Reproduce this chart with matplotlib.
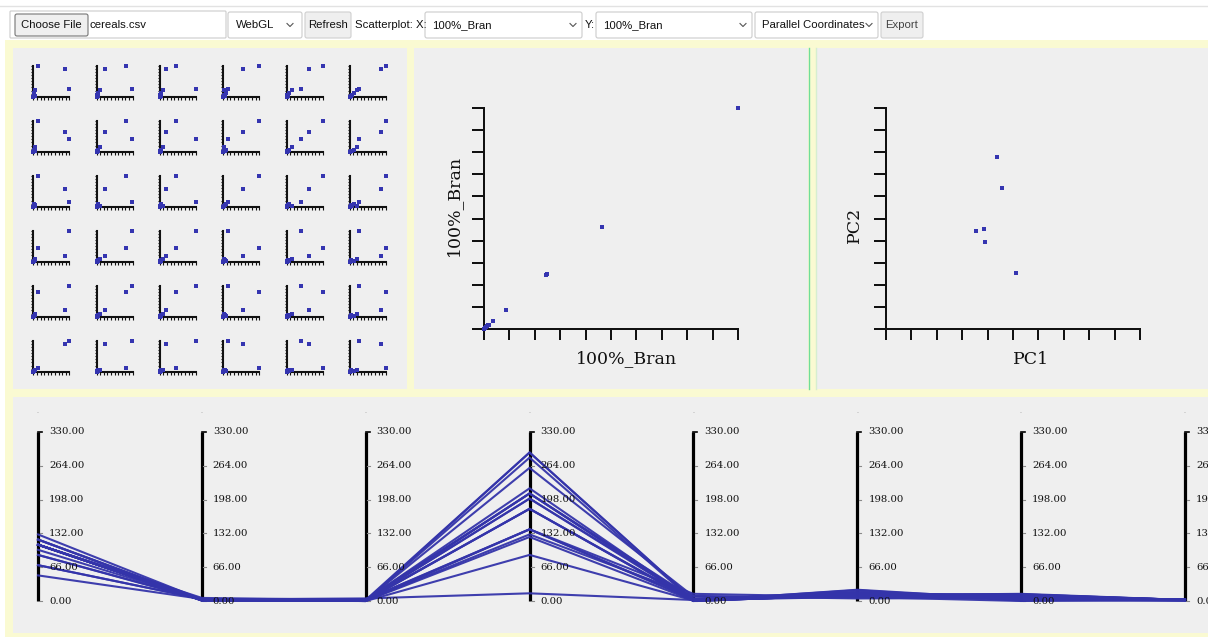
import matplotlib
matplotlib.use('Agg')
import matplotlib.pyplot as plt
from matplotlib.patches import Rectangle, FancyBboxPatch
import numpy as np

# ---- data ----
# scatter matrix: normalised values of six variables for the observations
spm_v0 = [0.12, 0.88, 0.99, 0.06, 0.03, 0.02, 0.04, 0.00]
spm_v1 = [0.81, 0.23, 0.99, 0.09, 0.03, 0.02, 0.05, 0.00]
spm_v2 = [0.435, 0.17, 0.99, 0.08, 0.03, 0.01, 0.04, 0.00]
spm_v3 = [1.00, 0.56, 0.14, 0.03, 0.09, 0.02, 0.05, 0.00]
spm_v4 = [1.00, 0.62, 0.40, 0.16, 0.06, 0.02, 0.03, 0.00]
spm_v5 = [1.00, 0.88, 0.25, 0.21, 0.12, 0.05, 0.02, 0.00]

# 100%_Bran column (calories .. rating)
bran_100 = [70, 4, 1, 130, 10, 5, 6, 280, 25, 3, 1, 0.33, 68.4]

# PCA projection
pc1 = [-0.37, -0.25, -0.88, -0.69, -0.66, 0.06]
pc2 = [1.67, 0.84, -0.34, -0.29, -0.64, -1.47]

# parallel coordinates (first cereals of cereals.csv)
pc_axes = ['calories', 'protein', 'fat', 'sodium', 'fiber', 'carbo', 'sugars', 'shelf']
calories = [70, 120, 70, 50, 110, 110, 110, 130, 90, 90, 120, 110, 120, 110, 110, 110, 100, 110, 110, 110]
protein = [4, 3, 4, 4, 2, 2, 2, 3, 2, 3, 1, 6, 1, 3, 1, 2, 2, 1, 1, 3]
fat = [1, 5, 1, 0, 2, 2, 0, 2, 1, 0, 2, 2, 3, 2, 1, 0, 0, 0, 1, 3]
sodium = [130, 15, 260, 140, 200, 180, 125, 210, 200, 210, 220, 290, 210, 140, 180, 280, 290, 90, 180, 140]
fiber = [10, 2, 9, 14, 1, 1.5, 1, 2, 4, 5, 0, 2, 0, 2, 0, 0, 1, 1, 0, 4]
carbo = [5, 8, 7, 8, 14, 10.5, 11, 18, 15, 13, 12, 17, 13, 13, 12, 22, 21, 13, 12, 10]
sugars = [6, 8, 5, 0, 8, 10, 14, 8, 6, 5, 12, 1, 9, 7, 13, 3, 2, 12, 13, 7]
shelf = [3, 3, 3, 3, 3, 1, 2, 3, 1, 3, 2, 1, 2, 3, 2, 1, 1, 2, 2, 3]
pc_ticks = [0, 66, 132, 198, 264, 330]

W, H = 1208, 637
fig = plt.figure(figsize=(W / 100, H / 100), dpi=100)
fig.patch.set_facecolor('white')

def px_axes(x0, y0, x1, y1):
    return fig.add_axes([x0 / W, 1 - y1 / H, (x1 - x0) / W, (y1 - y0) / H])

PT = 0.72  # points per pixel
BLUE = '#3535b0'
UI = ['Liberation Sans', 'DejaVu Sans']
SERIF = 'DejaVu Serif'

# ---- page chrome ----
bg = px_axes(0, 0, W, H)
bg.set_xlim(0, W)
bg.set_ylim(H, 0)
bg.axis('off')
bg.plot([0, W], [5.5, 5.5], color='#e2e2e2', lw=1)
bg.add_patch(Rectangle((5, 40), W - 5, H - 40, fc='#fafad2', ec='none'))
for x0, y0, w, h in [(13, 48, 394, 341), (414, 48, 394, 341), (816, 48, 392, 341), (13, 397, 1195, 236)]:
    bg.add_patch(Rectangle((x0, y0), w, h, fc='#efefef', ec='none'))
bg.plot([808.5, 808.5], [48, 389], color='#6fdc9a', lw=1)
bg.plot([815.5, 815.5], [48, 389], color='#d6eed0', lw=1)

def box(x0, y0, x1, y1, fc='white', ec='#cccccc', r=2):
    bg.add_patch(FancyBboxPatch((x0, y0), x1 - x0, y1 - y0,
                                boxstyle='round,pad=0,rounding_size=%d' % r,
                                fc=fc, ec=ec, lw=0.8))

def chevron(x, y=25):
    bg.plot([x - 3, x, x + 3], [y - 1.5, y + 1.5, y - 1.5], color='#555555', lw=0.8)

def ui_text(x, s, ha='left', color='#111111'):
    bg.text(x, 25, s, ha=ha, va='center', fontsize=8.2, family=UI, color=color)

box(10, 11, 226, 38, r=1)
box(15, 14, 88, 36, fc='#efefef', ec='#767676')
ui_text(51.5, 'Choose File', ha='center')
ui_text(90, 'cereals.csv')
box(228, 12, 302, 38)
ui_text(236, 'WebGL')
chevron(290)
box(305, 12, 351, 38, fc='#efefef', ec='#cfcfcf')
ui_text(328, 'Refresh', ha='center')
ui_text(355, 'Scatterplot: X:')
box(425, 12, 582, 38)
ui_text(432, '100%_Bran')
chevron(573)
ui_text(585, 'Y:')
box(596, 12, 752, 38)
ui_text(603, '100%_Bran')
chevron(743)
box(755, 12, 878, 38)
ui_text(762, 'Parallel Coordinates')
chevron(869)
box(881, 12, 923, 38, fc='#efefef', ec='#cfcfcf')
ui_text(902, 'Export', ha='center', color='#444444')

# ---- scatterplot matrix ----
spm = [spm_v0, spm_v1, spm_v2, spm_v3, spm_v4, spm_v5]
for r in range(6):
    for c in range(6):
        x0 = 33.3 + 63.3 * c
        yb = 96.7 + 55 * r
        ax = px_axes(x0, yb - 31, x0 + 36, yb)
        ax.patch.set_alpha(0)
        ax.scatter(spm[c], spm[5 - r], marker='s', s=5.5, color=BLUE, lw=0, clip_on=False, zorder=3)
        ax.set_xlim(0, 1)
        ax.set_ylim(0, 1)
        for s in ['top', 'right']:
            ax.spines[s].set_visible(False)
        for s in ['left', 'bottom']:
            ax.spines[s].set_linewidth(1.5)
            ax.spines[s].set_color('#111111')
        ax.set_xticks(np.linspace(0, 1, 11))
        ax.set_yticks(np.linspace(0, 1, 11))
        ax.tick_params(length=1.8, width=0.8, labelbottom=False, labelleft=False, color='#111111')

# ---- big scatterplots ----
def big_scatter(ax, xs, ys, xlim, ylim):
    ax.patch.set_alpha(0)
    ax.scatter(xs, ys, marker='s', s=5.5, color=BLUE, lw=0, clip_on=False, zorder=3)
    ax.set_xlim(*xlim)
    ax.set_ylim(*ylim)
    for s in ['top', 'right']:
        ax.spines[s].set_visible(False)
    for s in ['left', 'bottom']:
        ax.spines[s].set_linewidth(2 * PT)
        ax.spines[s].set_color('#111111')
    ax.set_xticks(np.linspace(xlim[0], xlim[1], 11))
    ax.set_yticks(np.linspace(ylim[0], ylim[1], 11))
    ax.tick_params(axis='x', length=11 * PT, width=2 * PT, labelbottom=False, color='#111111')
    ax.tick_params(axis='y', length=12 * PT, width=2 * PT, labelleft=False, color='#111111')

ax2 = px_axes(484, 108, 738, 329)
lim = (min(bran_100), max(bran_100))
big_scatter(ax2, bran_100, bran_100, lim, lim)
bg.text(627, 359, '100%_Bran', ha='center', va='center', fontsize=12.5, family=SERIF, color='#111111')
bg.text(454, 205, '100%_Bran', ha='center', va='center', rotation=90, fontsize=12.5, family=SERIF, color='#111111')

ax3 = px_axes(886, 108, 1140, 329)
big_scatter(ax3, pc1, pc2, (-3, 3), (-3, 3))
bg.text(1031, 359, 'PC1', ha='center', va='center', fontsize=12.5, family=SERIF, color='#111111')
bg.text(854, 225, 'PC2', ha='center', va='center', rotation=90, fontsize=12.5, family=SERIF, color='#111111')

# ---- parallel coordinates ----
ax4 = px_axes(38, 432, 1185, 601)
ax4.axis('off')
n_ax = len(pc_axes)
ax4.set_xlim(0, n_ax - 1)
ax4.set_ylim(0, 330)
upx = (n_ax - 1) / (1185 - 38)  # data units per pixel along x
cols = [calories, protein, fat, sodium, fiber, carbo, sugars, shelf]
for i in range(n_ax):
    ax4.plot([i, i], [0, 330], color='black', lw=2.3, solid_capstyle='butt', zorder=1, clip_on=False)
    ax4.plot([i, i + 4 * upx], [330, 330], color='black', lw=1.2, zorder=1, clip_on=False)
    for t in pc_ticks[:-1]:
        ax4.plot([i + 1.5 * upx, i + 4 * upx], [t, t], color='#8a8a8a', lw=0.8, zorder=1, clip_on=False)
    for t in pc_ticks:
        ax4.text(i + 11 * upx, t, '%.2f' % t, ha='left', va='center', fontsize=7.3,
                 family=SERIF, color='#111111', clip_on=False)
    ax4.text(i, 367, '-', ha='center', va='center', fontsize=4, color='#9a9a9a', clip_on=False)

xs = np.arange(n_ax)
for k in range(len(calories)):
    ys = [col[k] for col in cols]
    ax4.plot(xs, ys, color='#3434aa', lw=1.5, alpha=0.95, zorder=2, clip_on=False)

fig.savefig('out.png', dpi=100, facecolor='white')
